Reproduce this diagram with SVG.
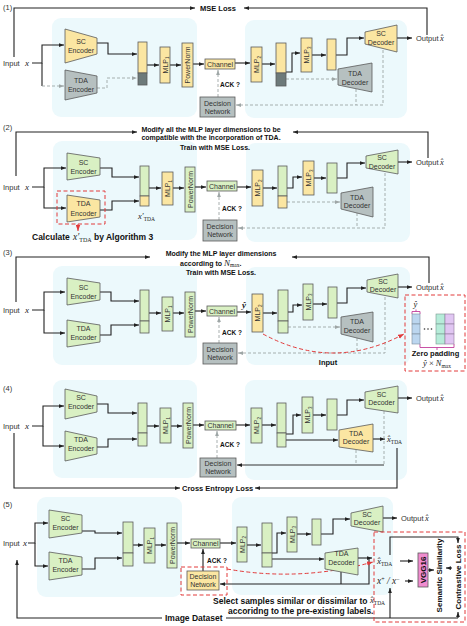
<svg xmlns="http://www.w3.org/2000/svg" width="467" height="626" viewBox="0 0 467 626">
<defs>
<style>
.bg{fill:#ecf9fc}
.Y{fill:#fbe6a2;stroke:#5a5a5a;stroke-width:.8}
.G{fill:#d9f0c3;stroke:#5a5a5a;stroke-width:.8}
.R{fill:#b6c0c0;stroke:#5a5a5a;stroke-width:.8}
.K{fill:#6d7a7a;stroke:#5a5a5a;stroke-width:.8}
.t{font-family:"Liberation Sans",Arial,sans-serif;font-size:7px;fill:#333;text-anchor:middle}
.s{font-family:"Liberation Sans",Arial,sans-serif;font-size:7.5px;fill:#333}
.b{font-family:"Liberation Sans",Arial,sans-serif;font-weight:bold;fill:#111}
.m{font-family:"Liberation Serif","Times New Roman",serif;font-style:italic;fill:#222}
.n{font-style:normal}
.c{fill:none;stroke:#222;stroke-width:1.1}
.d{fill:none;stroke:#9ea6a6;stroke-width:.9;stroke-dasharray:3 2}
.r{fill:none;stroke:#e23a3a;stroke-width:1;stroke-dasharray:4 2.5}
</style>
<marker id="ak" viewBox="0 0 8 6" refX="8" refY="3" markerWidth="5" markerHeight="4" orient="auto" markerUnits="userSpaceOnUse"><path d="M0,0L8,3L0,6z" fill="#222"/></marker>
<marker id="ag" viewBox="0 0 8 6" refX="8" refY="3" markerWidth="5" markerHeight="4" orient="auto" markerUnits="userSpaceOnUse"><path d="M0,0L8,3L0,6z" fill="#9ea6a6"/></marker>
<marker id="ar" viewBox="0 0 8 6" refX="8" refY="3" markerWidth="6" markerHeight="5" orient="auto" markerUnits="userSpaceOnUse"><path d="M0,0L8,3L0,6z" fill="#e23a3a"/></marker>
</defs>
<rect width="467" height="626" fill="#fff"/>

<!-- backgrounds -->
<g id="backgrounds">
<rect class="bg" x="52" y="18" width="145" height="99" rx="9"/>
<rect class="bg" x="245" y="20" width="162" height="98" rx="9"/>
<rect class="bg" x="53" y="141" width="144" height="99" rx="9"/>
<rect class="bg" x="246" y="143" width="164" height="99" rx="9"/>
<rect class="bg" x="53" y="266" width="144" height="99" rx="9"/>
<rect class="bg" x="246" y="267" width="164" height="98" rx="9"/>
<rect class="bg" x="53" y="380" width="144" height="98" rx="9"/>
<rect class="bg" x="245" y="380" width="162" height="100" rx="9"/>
<rect class="bg" x="37" y="497" width="145" height="100" rx="9"/>
<rect class="bg" x="232" y="497" width="161" height="98" rx="9"/>
</g>

<!-- connectors -->
<g id="connectors">
<!-- section 1 -->
<path class="c" d="M14,57V8H195" marker-end="url(#ak)"/>
<path class="c" d="M427,35V8H244" marker-end="url(#ak)"/>
<path class="c" d="M32,63H42V45H64" marker-end="url(#ak)"/>
<path class="c" d="M42,63V86"/>
<path class="d" d="M42,86H64" marker-end="url(#ag)"/>
<path class="c" d="M97,43H108V54H137" marker-end="url(#ak)"/>
<path class="d" d="M97,88H107V78H137" marker-end="url(#ag)"/>
<path class="c" d="M147,65H159" marker-end="url(#ak)"/>
<path class="c" d="M170,65H181" marker-end="url(#ak)"/>
<path class="c" d="M193,64H204" marker-end="url(#ak)"/>
<path class="d" d="M218,97V70" marker-end="url(#ag)"/>
<path class="c" d="M235,63H250" marker-end="url(#ak)"/>
<path class="c" d="M262,64H275" marker-end="url(#ak)"/>
<path class="c" d="M286,72H292V53H300" marker-end="url(#ak)"/>
<path class="c" d="M312,55H326" marker-end="url(#ak)"/>
<path class="c" d="M336,55H347V38H364" marker-end="url(#ak)"/>
<path class="c" d="M397,38H412" marker-end="url(#ak)"/>
<path class="d" d="M286,79H337" marker-end="url(#ag)"/>
<path class="d" d="M383,50V105H236" marker-end="url(#ag)"/>
<path class="d" d="M356,89V105"/>
<!-- section 2 -->
<path class="c" d="M16,176V132H137" marker-end="url(#ak)"/>
<path class="c" d="M428,158V132H293" marker-end="url(#ak)"/>
<path class="c" d="M32,187H44V168H66" marker-end="url(#ak)"/>
<path class="c" d="M44,187V208H66" marker-end="url(#ak)"/>
<path d="M78,224V231" fill="none" stroke="#e23a3a" stroke-width="1" marker-end="url(#ar)"/>
<path class="c" d="M100,168H112V177H139" marker-end="url(#ak)"/>
<path class="c" d="M100,210H112V201H139" marker-end="url(#ak)"/>
<path class="c" d="M149,188H161" marker-end="url(#ak)"/>
<path class="c" d="M173,188H184" marker-end="url(#ak)"/>
<path class="c" d="M195,187H206" marker-end="url(#ak)"/>
<path class="d" d="M219,220V192" marker-end="url(#ag)"/>
<path class="c" d="M237,187H251" marker-end="url(#ak)"/>
<path class="c" d="M263,188H277" marker-end="url(#ak)"/>
<path class="c" d="M287,188H293V177H302" marker-end="url(#ak)"/>
<path class="c" d="M314,178H326" marker-end="url(#ak)"/>
<path class="c" d="M337,178H347V163H365" marker-end="url(#ak)"/>
<path class="c" d="M398,162H412" marker-end="url(#ak)"/>
<path class="d" d="M287,202H340" marker-end="url(#ag)"/>
<path class="d" d="M385,173V228H238" marker-end="url(#ag)"/>
<path class="d" d="M357,213V228"/>
<!-- section 3 -->
<path class="c" d="M16,302V257H150" marker-end="url(#ak)"/>
<path class="c" d="M429,283V257H292" marker-end="url(#ak)"/>
<path class="c" d="M32,310H44V292H65" marker-end="url(#ak)"/>
<path class="c" d="M44,310V333H65" marker-end="url(#ak)"/>
<path class="c" d="M100,292H111V301H139" marker-end="url(#ak)"/>
<path class="c" d="M100,335H111V325H139" marker-end="url(#ak)"/>
<path class="c" d="M149,313H161" marker-end="url(#ak)"/>
<path class="c" d="M173,313H184" marker-end="url(#ak)"/>
<path class="c" d="M195,311H206" marker-end="url(#ak)"/>
<path class="d" d="M219,343V317" marker-end="url(#ag)"/>
<path class="c" d="M237,312H251" marker-end="url(#ak)"/>
<path class="c" d="M263,313H277" marker-end="url(#ak)"/>
<path class="c" d="M288,312H293V305H302" marker-end="url(#ak)"/>
<path class="c" d="M313,304H327" marker-end="url(#ak)"/>
<path class="c" d="M337,303H347V288H366" marker-end="url(#ak)"/>
<path class="c" d="M398,287H412" marker-end="url(#ak)"/>
<path class="d" d="M288,327H340" marker-end="url(#ag)"/>
<path class="d" d="M385,297V353H238" marker-end="url(#ag)"/>
<path class="d" d="M357,338V353"/>
<path class="r" d="M263,334Q333,372 404,334" marker-end="url(#ar)"/>
<path d="M412,314V311.5H420V314M416,311.5V309.5" fill="none" stroke="#c2409c" stroke-width=".9"/>
<path d="M420,344V347.5H454V344M437,347.5V350" fill="none" stroke="#c2409c" stroke-width=".9"/>
<!-- section 4 -->
<path class="c" d="M14,433V488H180" marker-end="url(#ak)"/>
<path class="c" d="M397,448V488H255" marker-end="url(#ak)"/>
<path class="c" d="M32,426H43V406H64" marker-end="url(#ak)"/>
<path class="c" d="M43,426V446H64" marker-end="url(#ak)"/>
<path class="c" d="M97,404H108V413H137" marker-end="url(#ak)"/>
<path class="c" d="M97,447H108V439H137" marker-end="url(#ak)"/>
<path class="c" d="M147,426H159" marker-end="url(#ak)"/>
<path class="c" d="M171,426H182" marker-end="url(#ak)"/>
<path class="c" d="M193,425H204" marker-end="url(#ak)"/>
<path class="d" d="M217,458V431" marker-end="url(#ag)"/>
<path class="c" d="M236,425H250" marker-end="url(#ak)"/>
<path class="c" d="M262,425H276" marker-end="url(#ak)"/>
<path class="c" d="M286,434H293V415H301" marker-end="url(#ak)"/>
<path class="c" d="M313,415H326" marker-end="url(#ak)"/>
<path class="c" d="M337,415H347V400H364" marker-end="url(#ak)"/>
<path class="c" d="M398,398H412" marker-end="url(#ak)"/>
<path class="c" d="M286,440H338" marker-end="url(#ak)"/>
<path class="c" d="M373,439H385" marker-end="url(#ak)"/>
<path class="d" d="M384,411V465"/>
<path class="d" d="M356,450V465"/>
<path d="M384,465H237" fill="none" stroke="#333" stroke-width="1" marker-end="url(#ak)"/>
<!-- section 5 -->
<path class="c" d="M28,543H35V523H48" marker-end="url(#ak)"/>
<path class="c" d="M35,543V566H48" marker-end="url(#ak)"/>
<path class="c" d="M82,531H95V533H122" marker-end="url(#ak)"/>
<path class="c" d="M82,569H95V558H122" marker-end="url(#ak)"/>
<path class="c" d="M133,545H143" marker-end="url(#ak)"/>
<path class="c" d="M155,545H166" marker-end="url(#ak)"/>
<path class="c" d="M177,543H190" marker-end="url(#ak)"/>
<path class="c" d="M203,571V549" marker-end="url(#ak)"/>
<path class="c" d="M220,543H236" marker-end="url(#ak)"/>
<path class="c" d="M247,545H261" marker-end="url(#ak)"/>
<path class="c" d="M272,553H277V533H286" marker-end="url(#ak)"/>
<path class="c" d="M297,534H311" marker-end="url(#ak)"/>
<path class="c" d="M321,534H333V519H350" marker-end="url(#ak)"/>
<path class="c" d="M383,518H397" marker-end="url(#ak)"/>
<path class="c" d="M272,559H324" marker-end="url(#ak)"/>
<path class="c" d="M358,558H372" marker-end="url(#ak)"/>
<path class="c" d="M369,558V584H220" marker-end="url(#ak)"/>
<path class="c" d="M341,572V584"/>
<path class="r" d="M227,569Q300,582 373,562" marker-end="url(#ar)"/>
<path class="c" d="M400,561H413" marker-end="url(#ak)"/>
<path class="c" d="M405,581H413" marker-end="url(#ak)"/>
<path class="c" d="M428,570H434" marker-end="url(#ak)"/>
<path class="c" d="M452,568H446" marker-end="url(#ak)"/>
<path class="c" d="M390,555V537H458V543" marker-end="url(#ak)"/>
<path class="c" d="M162,618H17V560" marker-end="url(#ak)"/>
<path class="c" d="M458,618H226"/>
<path class="c" d="M390,618V588" marker-end="url(#ak)"/>
<path class="c" d="M458,618V612" marker-end="url(#ak)"/>
</g>

<!-- ===== Section 1 ===== -->
<text class="s" x="3" y="10">(1)</text>
<text class="b" x="200" y="11" font-size="7.5">MSE Loss</text>
<g id="s1-input"><text class="s" x="3" y="66" font-size="8">Input</text><text class="m" x="25" y="66" font-size="9">x</text></g>
<g id="s1-sc-encoder"><polygon class="Y" points="65,29 97,38 97,54 65,63"/><text class="t" x="81" y="43.5">SC</text><text class="t" x="81" y="52.5">Encoder</text></g>
<g id="s1-tda-encoder"><polygon class="R" points="65,70 97,76 97,93 65,100"/><text class="t" x="81" y="83">TDA</text><text class="t" x="81" y="92">Encoder</text></g>
<g id="s1-concat1"><rect class="Y" x="138" y="42" width="9" height="31"/><rect class="K" x="138" y="73" width="9" height="12"/></g>
<g id="s1-mlp1"><rect class="Y" x="160" y="47" width="10" height="36"/><text class="t" transform="translate(165,65) rotate(-90)" y="2.5">MLP<tspan font-size="4.5" dy="1.5">1</tspan></text></g>
<g id="s1-powernorm"><rect class="Y" x="182" y="43" width="11" height="44"/><text class="t" transform="translate(187.5,65) rotate(-90)" y="2.5">PowerNorm</text></g>
<g id="s1-channel"><rect class="Y" x="205" y="59" width="30" height="10"/><text class="t" x="220" y="66.5" font-size="6.8">Channel</text></g>
<text class="b" x="220" y="87" font-size="6.5">ACK ?</text>
<g id="s1-decision"><rect class="R" x="200" y="97" width="35" height="20"/><text class="t" x="217.5" y="105.5" font-size="6.3">Decision</text><text class="t" x="217.5" y="113.5" font-size="6.3">Network</text></g>
<g id="s1-mlp2"><rect class="Y" x="251" y="47" width="11" height="35"/><text class="t" transform="translate(256.5,64.5) rotate(-90)" y="2.5">MLP<tspan font-size="4.5" dy="1.5">2</tspan></text></g>
<g id="s1-concat2"><rect class="Y" x="276" y="43" width="10" height="30"/><rect class="K" x="276" y="73" width="10" height="13"/></g>
<g id="s1-mlp3"><rect class="Y" x="301" y="38" width="11" height="34"/><text class="t" transform="translate(306.5,55) rotate(-90)" y="2.5">MLP<tspan font-size="4.5" dy="1.5">3</tspan></text></g>
<g id="s1-feature"><rect class="Y" x="327" y="39" width="9" height="31"/></g>
<g id="s1-sc-decoder"><polygon class="Y" points="365,32 397,25 397,52 365,44"/><text class="t" x="381" y="36" font-size="6.8">SC</text><text class="t" x="381" y="44.5" font-size="6.8">Decoder</text></g>
<g id="s1-tda-decoder"><polygon class="R" points="338,69 372,63 372,92 338,85"/><text class="t" x="355" y="76" font-size="6.8">TDA</text><text class="t" x="355" y="84.5" font-size="6.8">Decoder</text></g>
<g id="s1-output"><text class="s" x="416" y="41" font-size="7">Output</text><text class="m" x="440" y="41" font-size="8.5">x̂</text></g>

<!-- ===== Section 2 ===== -->
<text class="s" x="3" y="130">(2)</text>
<text class="b" x="211" y="131.5" font-size="7" text-anchor="middle">Modify all the MLP layer dimensions to be</text>
<text class="b" x="211" y="140" font-size="7" text-anchor="middle">compatible with the incorporation of TDA.</text>
<text class="b" x="215" y="149.5" font-size="7" text-anchor="middle">Train with MSE Loss.</text>
<g id="s2-input"><text class="s" x="3" y="190" font-size="8">Input</text><text class="m" x="25" y="190" font-size="9">x</text></g>
<g id="s2-sc-encoder"><polygon class="G" points="67,153 100,158 100,175 67,180"/><text class="t" x="83.5" y="164.5">SC</text><text class="t" x="83.5" y="174">Encoder</text></g>
<g id="s2-tda-encoder"><polygon class="Y" points="67,195 100,200 100,217 67,222"/><text class="t" x="83.5" y="206">TDA</text><text class="t" x="83.5" y="215.5">Encoder</text><rect class="r" x="57" y="191" width="48" height="33"/></g>
<g id="s2-calc"><text class="b" x="32" y="240" font-size="8.5">Calculate</text><text class="m" x="73" y="240" font-size="9.5">x′<tspan class="n" font-size="6" dy="2">TDA</tspan></text><text class="b" x="94" y="240" font-size="8.5">by Algorithm 3</text></g>
<g id="s2-concat1"><rect class="G" x="140" y="166" width="9" height="30"/><rect class="Y" x="140" y="196" width="9" height="10"/><text class="m" x="138" y="219" font-size="8.5">x′<tspan class="n" font-size="5.5" dy="2">TDA</tspan></text></g>
<g id="s2-mlp1"><rect class="Y" x="162" y="172" width="11" height="33"/><text class="t" transform="translate(167.5,188.5) rotate(-90)" y="2.5">MLP<tspan font-size="4.5" dy="1.5">1</tspan></text></g>
<g id="s2-powernorm"><rect class="G" x="185" y="167" width="10" height="45"/><text class="t" transform="translate(190,189.5) rotate(-90)" y="2.5">PowerNorm</text></g>
<g id="s2-channel"><rect class="G" x="207" y="181" width="30" height="10"/><text class="t" x="222" y="188.5" font-size="6.8">Channel</text></g>
<text class="b" x="222" y="211" font-size="6.5">ACK ?</text>
<g id="s2-decision"><rect class="R" x="203" y="220" width="34" height="21"/><text class="t" x="220" y="229" font-size="6.3">Decision</text><text class="t" x="220" y="237" font-size="6.3">Network</text></g>
<g id="s2-mlp2"><rect class="Y" x="252" y="170" width="11" height="36"/><text class="t" transform="translate(257.5,188) rotate(-90)" y="2.5">MLP<tspan font-size="4.5" dy="1.5">2</tspan></text></g>
<g id="s2-concat2"><rect class="G" x="278" y="166" width="9" height="30"/><rect class="Y" x="278" y="196" width="9" height="12"/></g>
<g id="s2-mlp3"><rect class="Y" x="303" y="161" width="11" height="34"/><text class="t" transform="translate(308.5,178) rotate(-90)" y="2.5">MLP<tspan font-size="4.5" dy="1.5">3</tspan></text></g>
<g id="s2-feature"><rect class="G" x="327" y="163" width="10" height="30"/></g>
<g id="s2-sc-decoder"><polygon class="G" points="366,156 398,150 398,174 366,168"/><text class="t" x="382" y="160" font-size="6.8">SC</text><text class="t" x="382" y="168.5" font-size="6.8">Decoder</text></g>
<g id="s2-tda-decoder"><polygon class="R" points="341,193 373,187 373,217 341,209"/><text class="t" x="357" y="199.5" font-size="6.8">TDA</text><text class="t" x="357" y="208" font-size="6.8">Decoder</text></g>
<g id="s2-output"><text class="s" x="416" y="165" font-size="7">Output</text><text class="m" x="440" y="165" font-size="8.5">x̂</text></g>

<!-- ===== Section 3 ===== -->
<text class="s" x="3" y="255">(3)</text>
<text class="b" x="221" y="255.5" font-size="7" text-anchor="middle">Modify the MLP layer dimensions</text>
<text class="b" x="180" y="265.5" font-size="7">according to <tspan class="m" font-weight="normal" font-size="9">N</tspan><tspan font-family="Liberation Serif" font-weight="normal" font-size="5.5" dy="1.5">max</tspan><tspan dy="-1.5">.</tspan></text>
<text class="b" x="221" y="274.5" font-size="7" text-anchor="middle">Train with MSE Loss.</text>
<g id="s3-input"><text class="s" x="3" y="313" font-size="8">Input</text><text class="m" x="25" y="313" font-size="9">x</text></g>
<g id="s3-sc-encoder"><polygon class="G" points="67,278 100,283 100,300 67,305"/><text class="t" x="83.5" y="289.5">SC</text><text class="t" x="83.5" y="299">Encoder</text></g>
<g id="s3-tda-encoder"><polygon class="G" points="67,320 100,325 100,342 67,347"/><text class="t" x="83.5" y="330.5">TDA</text><text class="t" x="83.5" y="340">Encoder</text></g>
<g id="s3-concat1"><rect class="G" x="140" y="290" width="9" height="31"/><rect class="G" x="140" y="321" width="9" height="12"/></g>
<g id="s3-mlp1"><rect class="G" x="162" y="297" width="11" height="34"/><text class="t" transform="translate(167.5,314) rotate(-90)" y="2.5">MLP<tspan font-size="4.5" dy="1.5">1</tspan></text></g>
<g id="s3-powernorm"><rect class="G" x="185" y="292" width="10" height="45"/><text class="t" transform="translate(190,314.5) rotate(-90)" y="2.5">PowerNorm</text></g>
<g id="s3-channel"><rect class="G" x="207" y="306" width="30" height="10"/><text class="t" x="222" y="313.5" font-size="6.8">Channel</text></g>
<text class="b" x="222" y="335" font-size="6.5">ACK ?</text>
<g id="s3-decision"><rect class="R" x="203" y="343" width="34" height="21"/><text class="t" x="220" y="352" font-size="6.3">Decision</text><text class="t" x="220" y="360" font-size="6.3">Network</text></g>
<text class="m" x="242" y="307.5" font-size="9" font-weight="bold">ŷ</text>
<g id="s3-mlp2"><rect class="Y" x="252" y="294" width="11" height="38"/><text class="t" transform="translate(257.5,313) rotate(-90)" y="2.5">MLP<tspan font-size="4.5" dy="1.5">2</tspan></text></g>
<g id="s3-concat2"><rect class="G" x="278" y="290" width="10" height="31"/><rect class="G" x="278" y="321" width="10" height="12"/></g>
<g id="s3-mlp3"><rect class="G" x="303" y="284" width="10" height="36"/><text class="t" transform="translate(308,302) rotate(-90)" y="2.5">MLP<tspan font-size="4.5" dy="1.5">3</tspan></text></g>
<g id="s3-feature"><rect class="G" x="328" y="287" width="9" height="31"/></g>
<g id="s3-sc-decoder"><polygon class="G" points="367,280 398,274 398,298 367,292"/><text class="t" x="383" y="283.5" font-size="6.8">SC</text><text class="t" x="383" y="292" font-size="6.8">Decoder</text></g>
<g id="s3-tda-decoder"><polygon class="R" points="341,317 373,312 373,342 341,334"/><text class="t" x="357" y="324" font-size="6.8">TDA</text><text class="t" x="357" y="332.5" font-size="6.8">Decoder</text></g>
<g id="s3-output"><text class="s" x="416" y="290" font-size="7">Output</text><text class="m" x="440" y="290" font-size="8.5">x̂</text></g>
<text class="b" x="328" y="364.5" font-size="7.5" text-anchor="middle">Input</text>
<g id="s3-zero-padding">
<rect class="r" x="405" y="295" width="60" height="76" fill="#fff"/>
<text class="m" x="413.5" y="306.5" font-size="8.5">ŷ</text>
<rect x="412" y="314" width="8" height="10" fill="#bcd6ef" stroke="#7a8a99" stroke-width=".6"/>
<rect x="412" y="324" width="8" height="10" fill="#bcd6ef" stroke="#7a8a99" stroke-width=".6"/>
<rect x="412" y="334" width="8" height="10" fill="#bcd6ef" stroke="#7a8a99" stroke-width=".6"/>
<circle cx="424.5" cy="329" r=".8" fill="#333"/><circle cx="428" cy="329" r=".8" fill="#333"/><circle cx="431.5" cy="329" r=".8" fill="#333"/>
<rect x="436" y="314" width="9" height="10" fill="#b6ecd9" stroke="#7a9990" stroke-width=".6"/>
<rect x="436" y="324" width="9" height="10" fill="#b6ecd9" stroke="#7a9990" stroke-width=".6"/>
<rect x="436" y="334" width="9" height="10" fill="#b6ecd9" stroke="#7a9990" stroke-width=".6"/>
<rect x="445" y="314" width="9" height="10" fill="#e0c6f2" stroke="#8f7a99" stroke-width=".6"/>
<rect x="445" y="324" width="9" height="10" fill="#e0c6f2" stroke="#8f7a99" stroke-width=".6"/>
<rect x="445" y="334" width="9" height="10" fill="#e0c6f2" stroke="#8f7a99" stroke-width=".6"/>
<text class="b" x="435.5" y="356" font-size="7.5" text-anchor="middle">Zero padding</text>
<text class="m" x="437" y="366" font-size="8.5" text-anchor="middle">ŷ<tspan class="n"> × </tspan>N<tspan class="n" font-size="5.5" dy="1.5">max</tspan></text>
</g>

<!-- ===== Section 4 ===== -->
<text class="s" x="3" y="391">(4)</text>
<text class="b" x="182" y="490.5" font-size="7.5">Cross Entropy Loss</text>
<g id="s4-input"><text class="s" x="3" y="429" font-size="8">Input</text><text class="m" x="25" y="429" font-size="9">x</text></g>
<g id="s4-sc-encoder"><polygon class="G" points="65,389 97,396 97,412 65,419"/><text class="t" x="81" y="400">SC</text><text class="t" x="81" y="409">Encoder</text></g>
<g id="s4-tda-encoder"><polygon class="G" points="65,431 97,438 97,454 65,461"/><text class="t" x="81" y="442">TDA</text><text class="t" x="81" y="451">Encoder</text></g>
<g id="s4-concat1"><rect class="G" x="138" y="403" width="9" height="30"/><rect class="G" x="138" y="433" width="9" height="13"/></g>
<g id="s4-mlp1"><rect class="G" x="160" y="408" width="11" height="35"/><text class="t" transform="translate(165.5,425.5) rotate(-90)" y="2.5">MLP<tspan font-size="4.5" dy="1.5">1</tspan></text></g>
<g id="s4-powernorm"><rect class="G" x="183" y="403" width="10" height="45"/><text class="t" transform="translate(188,425.5) rotate(-90)" y="2.5">PowerNorm</text></g>
<g id="s4-channel"><rect class="G" x="205" y="421" width="31" height="9"/><text class="t" x="220.5" y="428" font-size="6.8">Channel</text></g>
<text class="b" x="220" y="447" font-size="6.5">ACK ?</text>
<g id="s4-decision"><rect class="R" x="200" y="458" width="36" height="19"/><text class="t" x="218" y="466" font-size="6.3">Decision</text><text class="t" x="218" y="474" font-size="6.3">Network</text></g>
<g id="s4-mlp2"><rect class="G" x="251" y="408" width="11" height="35"/><text class="t" transform="translate(256.5,425.5) rotate(-90)" y="2.5">MLP<tspan font-size="4.5" dy="1.5">2</tspan></text></g>
<g id="s4-concat2"><rect class="G" x="277" y="403" width="9" height="30"/><rect class="G" x="277" y="433" width="9" height="14"/></g>
<g id="s4-mlp3"><rect class="G" x="302" y="397" width="11" height="36"/><text class="t" transform="translate(307.5,415) rotate(-90)" y="2.5">MLP<tspan font-size="4.5" dy="1.5">3</tspan></text></g>
<g id="s4-feature"><rect class="G" x="327" y="399" width="10" height="31"/></g>
<g id="s4-sc-decoder"><polygon class="G" points="365,392 398,386 398,413 365,408"/><text class="t" x="381.5" y="396.5" font-size="6.8">SC</text><text class="t" x="381.5" y="405" font-size="6.8">Decoder</text></g>
<g id="s4-tda-decoder"><polygon class="Y" points="339,430 373,424 373,452 339,447"/><text class="t" x="356" y="435.5" font-size="6.8">TDA</text><text class="t" x="356" y="444" font-size="6.8">Decoder</text></g>
<text class="m" x="387" y="442" font-size="8.5">x̂<tspan class="n" font-size="5.5" dy="2">TDA</tspan></text>
<g id="s4-output"><text class="s" x="416" y="401" font-size="7">Output</text><text class="m" x="440" y="401" font-size="8.5">x̂</text></g>

<!-- ===== Section 5 ===== -->
<text class="s" x="3" y="507">(5)</text>
<g id="s5-input"><text class="s" x="3" y="546" font-size="8">Input</text><text class="m" x="23" y="546" font-size="9">x</text></g>
<g id="s5-sc-encoder"><polygon class="G" points="49,510 82,515 82,533 49,538"/><text class="t" x="65.5" y="520.5">SC</text><text class="t" x="65.5" y="529.5">Encoder</text></g>
<g id="s5-tda-encoder"><polygon class="G" points="49,552 82,557 82,575 49,580"/><text class="t" x="65.5" y="563">TDA</text><text class="t" x="65.5" y="572">Encoder</text></g>
<g id="s5-concat1"><rect class="G" x="123" y="522" width="10" height="31"/><rect class="G" x="123" y="553" width="10" height="13"/></g>
<g id="s5-mlp1"><rect class="G" x="144" y="528" width="11" height="35"/><text class="t" transform="translate(149.5,545.5) rotate(-90)" y="2.5">MLP<tspan font-size="4.5" dy="1.5">1</tspan></text></g>
<g id="s5-powernorm"><rect class="G" x="167" y="523" width="10" height="45"/><text class="t" transform="translate(172,545.5) rotate(-90)" y="2.5">PowerNorm</text></g>
<g id="s5-channel"><rect class="G" x="191" y="539" width="29" height="9"/><text class="t" x="205.5" y="546" font-size="6.8">Channel</text></g>
<text class="b" x="207" y="563" font-size="6.5">ACK ?</text>
<g id="s5-decision"><rect class="Y" x="187" y="571" width="32" height="19"/><text class="t" x="203" y="579" font-size="6.3">Decision</text><text class="t" x="203" y="587" font-size="6.3">Network</text><rect class="r" x="181" y="567" width="46" height="28"/></g>
<g id="s5-mlp2"><rect class="G" x="237" y="527" width="10" height="35"/><text class="t" transform="translate(242,544.5) rotate(-90)" y="2.5">MLP<tspan font-size="4.5" dy="1.5">2</tspan></text></g>
<g id="s5-concat2"><rect class="G" x="262" y="523" width="10" height="30"/><rect class="G" x="262" y="553" width="10" height="14"/></g>
<g id="s5-mlp3"><rect class="G" x="287" y="517" width="10" height="35"/><text class="t" transform="translate(292,534.5) rotate(-90)" y="2.5">MLP<tspan font-size="4.5" dy="1.5">3</tspan></text></g>
<g id="s5-feature"><rect class="G" x="312" y="519" width="9" height="26"/></g>
<g id="s5-sc-decoder"><polygon class="G" points="351,513 383,506 383,532 351,526"/><text class="t" x="367" y="516.5" font-size="6.8">SC</text><text class="t" x="367" y="525" font-size="6.8">Decoder</text></g>
<g id="s5-tda-decoder"><polygon class="G" points="325,553 358,548 358,575 325,569"/><text class="t" x="341.5" y="556" font-size="6.8">TDA</text><text class="t" x="341.5" y="564.5" font-size="6.8">Decoder</text></g>
<g id="s5-output"><text class="s" x="401" y="521" font-size="7">Output</text><text class="m" x="425" y="521" font-size="8.5">x̂</text></g>
<g id="s5-contrastive">
<rect class="r" x="374" y="532" width="91" height="90" fill="#fff"/>
<text class="m" x="377" y="563.5" font-size="9">x̂<tspan class="n" font-size="5.5" dy="2">TDA</tspan></text>
<text class="m" x="377" y="584" font-size="9.5">x<tspan class="n" font-size="6" dy="-3.5">+</tspan><tspan dy="3.5"> / x</tspan><tspan class="n" font-size="6" dy="-3.5">−</tspan></text>
<rect x="418" y="553" width="10" height="34" fill="#f08ccf" stroke="#5a5a5a" stroke-width=".8"/>
<text class="b" transform="translate(426,570) rotate(-90)" font-size="8" text-anchor="middle">VGG16</text>
<text class="b" transform="translate(441.5,575.5) rotate(-90)" font-size="8" text-anchor="middle">Semantic Similarity</text>
<text class="b" transform="translate(461,577) rotate(-90)" font-size="8" text-anchor="middle">Contrastive Loss</text>
</g>
<text class="b" x="213" y="604" font-size="8.5">Select samples similar or dissimilar to</text>
<text class="m" x="370" y="603" font-size="8.5">x̂<tspan class="n" font-size="5.5" dy="2">TDA</tspan></text>
<text class="b" x="228" y="614" font-size="8.5">accoridng to the pre-existing labels.</text>
<text class="b" x="165" y="621" font-size="8.5">Image Dataset</text>
</svg>
